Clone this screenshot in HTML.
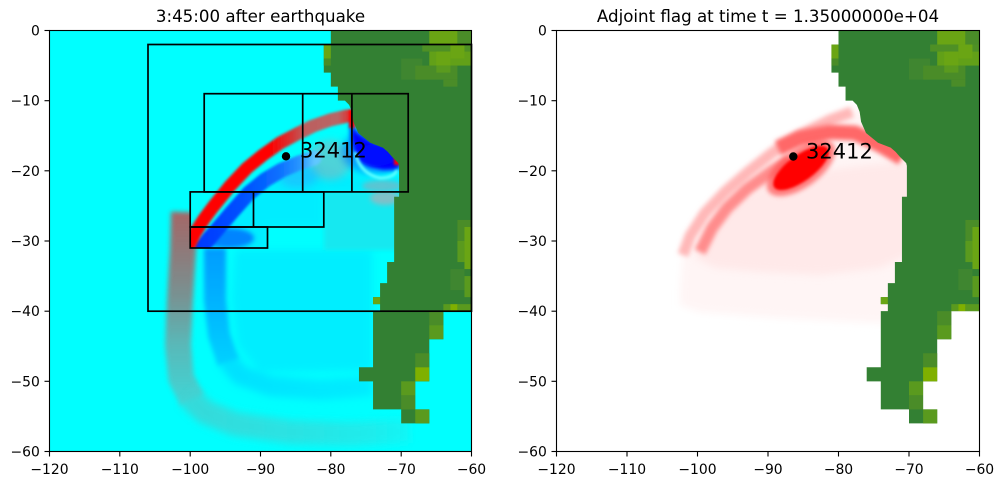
<!DOCTYPE html>
<html><head><meta charset="utf-8"><style>html,body{margin:0;padding:0;background:#fff;}svg{display:block;}</style></head>
<body>
<svg width="1003" height="486" viewBox="0 0 1003 486" xmlns="http://www.w3.org/2000/svg" font-family="'DejaVu Sans','Liberation Sans',sans-serif">
<defs>
 <filter id="b1" filterUnits="userSpaceOnUse" x="0" y="0" width="1003" height="486"><feGaussianBlur stdDeviation="1.2"/></filter>
 <filter id="b2" filterUnits="userSpaceOnUse" x="0" y="0" width="1003" height="486"><feGaussianBlur stdDeviation="2.5"/></filter>
 <filter id="b3" filterUnits="userSpaceOnUse" x="0" y="0" width="1003" height="486"><feGaussianBlur stdDeviation="4"/></filter>
 <filter id="b4" filterUnits="userSpaceOnUse" x="0" y="0" width="1003" height="486"><feGaussianBlur stdDeviation="7"/></filter>
 <clipPath id="axL"><rect x="49.5" y="30.5" width="422" height="421"/></clipPath>
 <clipPath id="axR"><rect x="556.5" y="30.5" width="423" height="421"/></clipPath>
 <clipPath id="fineL">
  <rect x="204.2" y="93.7" width="204" height="98.2"/>
  <rect x="190.2" y="191.9" width="133.6" height="35.1"/>
  <rect x="190.2" y="227" width="77.3" height="21"/>
 </clipPath>
 <linearGradient id="gRed" gradientUnits="userSpaceOnUse" x1="185" y1="0" x2="355" y2="0">
  <stop offset="0" stop-color="#ff0000"/>
  <stop offset="0.5" stop-color="#ff0000"/>
  <stop offset="0.62" stop-color="#d83030"/>
  <stop offset="0.71" stop-color="#bc5f5f"/>
  <stop offset="0.9" stop-color="#b86666"/>
  <stop offset="0.97" stop-color="#e03030"/>
  <stop offset="1" stop-color="#ff0000"/>
 </linearGradient>
 <linearGradient id="gBlue" gradientUnits="userSpaceOnUse" x1="195" y1="0" x2="315" y2="0">
  <stop offset="0" stop-color="#0038ff"/>
  <stop offset="0.4" stop-color="#0050ff"/>
  <stop offset="0.7" stop-color="#0a70ff"/>
  <stop offset="0.88" stop-color="#2a98ff"/>
  <stop offset="1" stop-color="#60c8ff"/>
 </linearGradient>
 <linearGradient id="gGrayV" gradientUnits="userSpaceOnUse" x1="0" y1="210" x2="0" y2="400">
  <stop offset="0" stop-color="#b85656"/>
  <stop offset="0.2" stop-color="#a06a6a"/>
  <stop offset="0.45" stop-color="#868686"/>
  <stop offset="0.7" stop-color="#64b0b0"/>
  <stop offset="1" stop-color="#48d0d0"/>
 </linearGradient>
 <linearGradient id="gTealH" gradientUnits="userSpaceOnUse" x1="185" y1="0" x2="420" y2="0">
  <stop offset="0" stop-color="#44d0d0"/>
  <stop offset="0.45" stop-color="#36dcdc"/>
  <stop offset="0.8" stop-color="#26e8e8"/>
  <stop offset="1" stop-color="#10f8f8"/>
 </linearGradient>
 <linearGradient id="gBlueV" gradientUnits="userSpaceOnUse" x1="0" y1="245" x2="0" y2="362">
  <stop offset="0" stop-color="#0090ff"/>
  <stop offset="0.5" stop-color="#00acff"/>
  <stop offset="1" stop-color="#00ccff"/>
 </linearGradient>
 <linearGradient id="gBlueH" gradientUnits="userSpaceOnUse" x1="225" y1="0" x2="372" y2="0">
  <stop offset="0" stop-color="#00ccff"/>
  <stop offset="0.5" stop-color="#00d8ff"/>
  <stop offset="1" stop-color="#00e0ff"/>
 </linearGradient>
 <g id="land">
  <polygon fill="#338033" points="40,0 60,0 60,40 56,40 56,44 54,44 54,50 52,50 52,54 54,54 54,56 50,56 50,54 46,54 46,50 44,50 44,48 46,48 46,40 47,40 47,39 46,39 46,38 47,38 47,36 48,36 48,33 49,33 49,23.7 49.7,23.7 49.7,19.3 49.6,18.9 48.7,18 48.1,17.3 47.4,16.7 45.6,16 43.9,14.6 43.2,13 43,11.6 42.6,10.6 42,10 41,10 41,8 40,8 40,6 39,6 39,2 40,2"/>
  <rect x="54" y="0" width="4" height="2" fill="#6aa514"/>
  <rect x="58" y="0" width="2" height="2" fill="#4a8c28"/>
  <rect x="39" y="2" width="1" height="2" fill="#6aa514"/>
  <rect x="39" y="4" width="1" height="1" fill="#4a8c28"/>
  <rect x="53" y="2" width="7" height="1" fill="#4e9025"/>
  <rect x="50" y="4" width="3" height="3" fill="#3f8630"/>
  <rect x="52" y="5" width="6" height="2" fill="#4a8c28"/>
  <rect x="54" y="3" width="6" height="2" fill="#62a018"/>
  <rect x="55" y="3" width="2" height="2" fill="#6aa514"/>
  <rect x="57" y="2" width="2" height="2" fill="#6aa514"/>
  <rect x="55" y="5" width="2" height="1" fill="#5a9a1e"/>
  <rect x="56" y="7" width="2" height="1" fill="#4a8c28"/>
  <rect x="58" y="27" width="2" height="4" fill="#4a8c28"/>
  <rect x="58" y="30" width="1" height="3" fill="#5a9a1e"/>
  <rect x="59" y="28" width="1" height="6" fill="#6aa514"/>
  <rect x="57" y="34" width="2" height="3" fill="#3f8630"/>
  <rect x="59" y="35" width="1" height="3" fill="#5a9a1e"/>
  <rect x="46" y="38" width="1" height="1" fill="#6aa514"/>
  <rect x="56" y="39" width="1" height="1" fill="#5a9a1e"/>
  <rect x="57" y="39" width="1" height="1" fill="#7fb000"/>
  <rect x="58" y="39" width="2" height="1" fill="#5a9a1e"/>
  <rect x="54" y="40" width="2" height="2" fill="#4a8c28"/>
  <rect x="54" y="42" width="2" height="2" fill="#5a9a1e"/>
  <rect x="52" y="46" width="2" height="2" fill="#4a8c28"/>
  <rect x="52" y="48" width="2" height="2" fill="#7fb000"/>
  <rect x="50" y="50" width="2" height="2" fill="#5a9a1e"/>
  <rect x="50" y="52" width="2" height="2" fill="#4a8c28"/>
  <rect x="52" y="54" width="2" height="2" fill="#5a9a1e"/>
 </g>
</defs>
<rect width="1003" height="486" fill="#ffffff"/>

<!-- ================= LEFT PANEL ================= -->
<g clip-path="url(#axL)">
 <rect x="49.5" y="30.5" width="422" height="421" fill="#00ffff"/>
 <!-- coarse field -->
 <polygon points="235,250 372,250 372,370 260,372 238,345 232,300" fill="#00eaff" opacity="0.8" filter="url(#b3)"/>
 <rect x="324" y="192" width="76" height="58" fill="#18e8f0" filter="url(#b2)"/>
 <ellipse cx="385" cy="198" rx="15" ry="7" fill="#80c0c8" filter="url(#b2)"/>
 <path d="M 184 212 L 183 250 L 180 300 L 178 345 L 181 378 L 192 400" fill="none" stroke="url(#gGrayV)" stroke-width="26" stroke-linejoin="round" opacity="0.9" filter="url(#b2)"/>
 <path d="M 188 396 L 205 412 L 235 424 L 290 432 L 350 434 L 410 431" fill="none" stroke="url(#gTealH)" stroke-width="24" stroke-linejoin="round" opacity="0.8" filter="url(#b3)"/>
 <path d="M 215 248 L 215 300 L 219 335 L 228 362" fill="none" stroke="url(#gBlueV)" stroke-width="22" stroke-linejoin="round" opacity="0.9" filter="url(#b2)"/>
 <path d="M 226 358 L 240 375 L 270 386 L 320 390 L 372 386" fill="none" stroke="url(#gBlueH)" stroke-width="20" stroke-linejoin="round" opacity="0.6" filter="url(#b3)"/>
 <!-- fine field -->
 <g clip-path="url(#fineL)">
  <rect x="185" y="90" width="230" height="165" fill="#00ffff"/>
  <polygon points="192,262 268,250 268,228 324,228 324,193 408,193 408,176 370,180 340,172 312,160 290,170 265,185 240,208 220,235" fill="#00dcff" opacity="0.5" filter="url(#b3)"/>
  <ellipse cx="330" cy="160" rx="22" ry="20" fill="#78bcc4" opacity="0.65" filter="url(#b3)"/>
  <ellipse cx="298" cy="176" rx="20" ry="12" fill="#30a0ff" opacity="0.45" filter="url(#b3)"/>
  <ellipse cx="228" cy="238" rx="26" ry="10" fill="#0060ff" opacity="0.75" filter="url(#b2)"/>
  <polyline points="198,264 202,247 215,232 232,212 249,193 265,180 282,170 299,163 314,158" fill="none" stroke="url(#gBlue)" stroke-width="15" stroke-linejoin="round" stroke-linecap="round" filter="url(#b1)"/>
  <polyline points="186,252 195,233 204,219 213,207 230,186 247,168 263,155 280,143 297,134 313,126 330,120 347,116 354,116" fill="none" stroke="url(#gRed)" stroke-width="13" stroke-linejoin="round" filter="url(#b1)"/>
  <ellipse cx="372" cy="152" rx="30" ry="22" fill="#0060ff" opacity="0.55" filter="url(#b3)"/>
  <polygon points="350,122 358,133 370,141 384,149 393,153 399,160 400,168 395,170 383,170 370,166 360,160 354,150 351,138" fill="#0000ff" filter="url(#b2)"/>
  <ellipse cx="377" cy="155" rx="20" ry="11" fill="#0010ff" filter="url(#b2)"/>
  <ellipse cx="382" cy="186" rx="20" ry="6" fill="#80b4c0" opacity="0.7" filter="url(#b2)"/>
  <path d="M 355 152 Q 360 174 380 178 Q 394 178 397 170" fill="none" stroke="#60ffff" stroke-width="3" filter="url(#b1)"/>
  <rect x="349" y="110" width="6" height="18" fill="#ff0000" filter="url(#b1)"/>
  <rect x="394" y="155" width="6" height="10" fill="#ff0000" filter="url(#b1)"/>
 </g>
 <use href="#land" transform="translate(49.5 30.5) scale(7.0333 7.0167)"/>
</g>
<!-- grid boxes -->
<g fill="none" stroke="#000" stroke-width="1.7">
 <rect x="148" y="44.5" width="323.5" height="266.7"/>
 <rect x="204.2" y="93.7" width="204" height="98.2"/>
 <line x1="302.7" y1="93.7" x2="302.7" y2="191.9"/>
 <line x1="351.9" y1="93.7" x2="351.9" y2="191.9"/>
 <rect x="190.2" y="191.9" width="133.6" height="35.1"/>
 <line x1="253.5" y1="191.9" x2="253.5" y2="227"/>
 <rect x="190.2" y="227" width="77.3" height="21"/>
</g>
<rect x="49.5" y="30.5" width="422" height="421" fill="none" stroke="#000" stroke-width="1.1"/>
<circle cx="286" cy="156.3" r="4.2" fill="#000"/>
<text x="300" y="157.5" font-size="21" fill="#000">32412</text>
<text x="260.5" y="22" font-size="16.67" text-anchor="middle" fill="#000">3:45:00 after earthquake</text>
<g stroke="#000" stroke-width="1.1">
 <line x1="49.5" y1="451.5" x2="49.5" y2="456.5"/>
 <line x1="119.8" y1="451.5" x2="119.8" y2="456.5"/>
 <line x1="190.2" y1="451.5" x2="190.2" y2="456.5"/>
 <line x1="260.5" y1="451.5" x2="260.5" y2="456.5"/>
 <line x1="330.8" y1="451.5" x2="330.8" y2="456.5"/>
 <line x1="401.2" y1="451.5" x2="401.2" y2="456.5"/>
 <line x1="471.5" y1="451.5" x2="471.5" y2="456.5"/>
 <line x1="44.5" y1="30.5" x2="49.5" y2="30.5"/>
 <line x1="44.5" y1="100.7" x2="49.5" y2="100.7"/>
 <line x1="44.5" y1="170.8" x2="49.5" y2="170.8"/>
 <line x1="44.5" y1="241" x2="49.5" y2="241"/>
 <line x1="44.5" y1="311.2" x2="49.5" y2="311.2"/>
 <line x1="44.5" y1="381.3" x2="49.5" y2="381.3"/>
 <line x1="44.5" y1="451.5" x2="49.5" y2="451.5"/>
</g>
<g font-size="13.9" fill="#000" text-anchor="middle">
 <text x="49.5" y="474">−120</text>
 <text x="119.8" y="474">−110</text>
 <text x="190.2" y="474">−100</text>
 <text x="260.5" y="474">−90</text>
 <text x="330.8" y="474">−80</text>
 <text x="401.2" y="474">−70</text>
 <text x="471.5" y="474">−60</text>
</g>
<g font-size="13.9" fill="#000" text-anchor="end">
 <text x="39.8" y="35.5">0</text>
 <text x="39.8" y="105.7">−10</text>
 <text x="39.8" y="175.8">−20</text>
 <text x="39.8" y="246">−30</text>
 <text x="39.8" y="316.2">−40</text>
 <text x="39.8" y="386.3">−50</text>
 <text x="39.8" y="456.5">−60</text>
</g>

<!-- ================= RIGHT PANEL ================= -->
<g clip-path="url(#axR)">
 <rect x="556.5" y="30.5" width="423" height="421" fill="#ffffff"/>
 <polygon points="680,290 683,255 700,215 730,182 770,150 810,126 850,108 920,108 920,325 860,322 780,318 700,312 680,305" fill="#fff5f5" filter="url(#b3)"/>
 <polygon points="695,258 708,230 732,205 770,182 810,172 860,166 920,160 920,250 880,268 820,275 760,272 715,268" fill="#ffe9e9" filter="url(#b3)"/>
 <polyline points="683,255 690,236 705,213 725,192 748,172 772,153 800,135 830,120 852,112" fill="none" stroke="#ffb8b8" stroke-width="11" stroke-linejoin="round" filter="url(#b2)"/>
 <polyline points="700,252 712,228 727,208 747,189 772,171 790,160" fill="none" stroke="#ff8c8c" stroke-width="12" stroke-linejoin="round" filter="url(#b2)"/>
 <polyline points="778,148 800,138 830,132 855,133 880,145 902,158" fill="none" stroke="#ff6868" stroke-width="15" stroke-linejoin="round" filter="url(#b2)"/>
 <ellipse cx="801" cy="168" rx="40" ry="19" transform="rotate(-36 801 168)" fill="#ff5050" opacity="0.7" filter="url(#b2)"/>
 <ellipse cx="801" cy="168" rx="33" ry="13" transform="rotate(-36 801 168)" fill="#ff0000" filter="url(#b1)"/>
 <use href="#land" transform="translate(556.5 30.5) scale(7.05 7.0167)"/>
</g>
<rect x="556.5" y="30.5" width="423" height="421" fill="none" stroke="#000" stroke-width="1.1"/>
<circle cx="793.3" cy="156.5" r="4.2" fill="#000"/>
<text x="806" y="158.3" font-size="21" fill="#000">32412</text>
<text x="768" y="22" font-size="16.67" text-anchor="middle" fill="#000">Adjoint flag at time t = 1.35000000e+04</text>
<g stroke="#000" stroke-width="1.1">
 <line x1="556.5" y1="451.5" x2="556.5" y2="456.5"/>
 <line x1="627" y1="451.5" x2="627" y2="456.5"/>
 <line x1="697.5" y1="451.5" x2="697.5" y2="456.5"/>
 <line x1="768" y1="451.5" x2="768" y2="456.5"/>
 <line x1="838.5" y1="451.5" x2="838.5" y2="456.5"/>
 <line x1="909" y1="451.5" x2="909" y2="456.5"/>
 <line x1="979.5" y1="451.5" x2="979.5" y2="456.5"/>
 <line x1="551.5" y1="30.5" x2="556.5" y2="30.5"/>
 <line x1="551.5" y1="100.7" x2="556.5" y2="100.7"/>
 <line x1="551.5" y1="170.8" x2="556.5" y2="170.8"/>
 <line x1="551.5" y1="241" x2="556.5" y2="241"/>
 <line x1="551.5" y1="311.2" x2="556.5" y2="311.2"/>
 <line x1="551.5" y1="381.3" x2="556.5" y2="381.3"/>
 <line x1="551.5" y1="451.5" x2="556.5" y2="451.5"/>
</g>
<g font-size="13.9" fill="#000" text-anchor="middle">
 <text x="556.5" y="474">−120</text>
 <text x="627" y="474">−110</text>
 <text x="697.5" y="474">−100</text>
 <text x="768" y="474">−90</text>
 <text x="838.5" y="474">−80</text>
 <text x="909" y="474">−70</text>
 <text x="979.5" y="474">−60</text>
</g>
<g font-size="13.9" fill="#000" text-anchor="end">
 <text x="546.8" y="35.5">0</text>
 <text x="546.8" y="105.7">−10</text>
 <text x="546.8" y="175.8">−20</text>
 <text x="546.8" y="246">−30</text>
 <text x="546.8" y="316.2">−40</text>
 <text x="546.8" y="386.3">−50</text>
 <text x="546.8" y="456.5">−60</text>
</g>
</svg>
</body></html>
